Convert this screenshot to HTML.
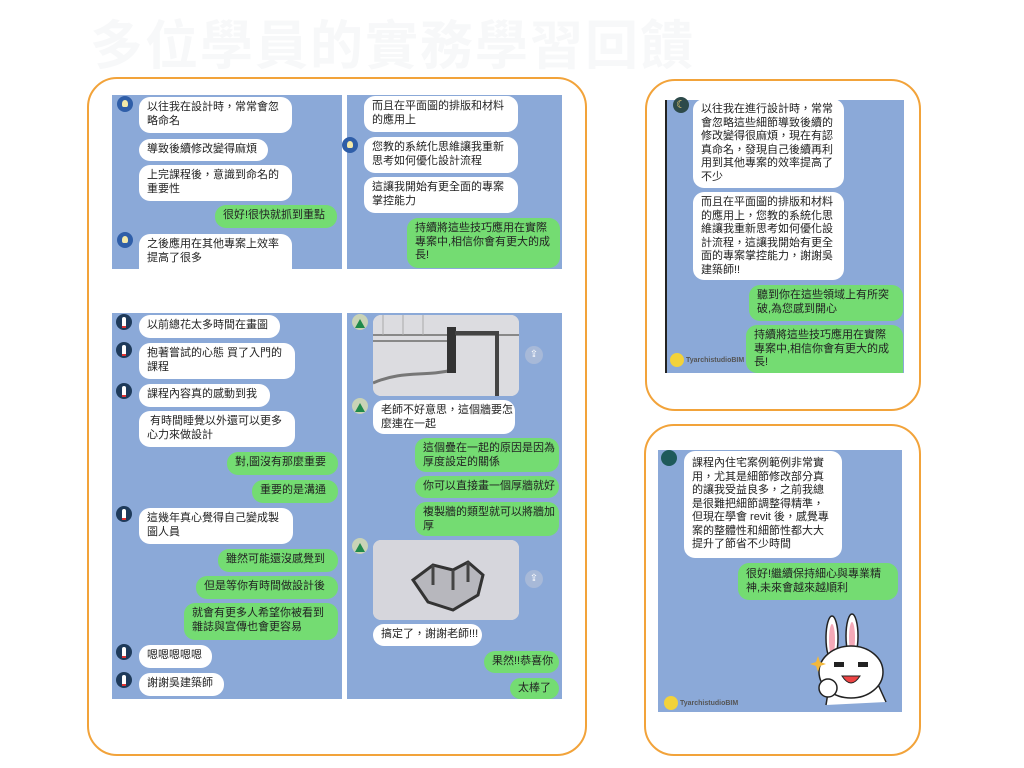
<!DOCTYPE html>
<html><head><meta charset="utf-8">
<style>
*{margin:0;padding:0;box-sizing:border-box}
body{width:1024px;height:768px;background:#fff;position:relative;overflow:hidden;font-family:"Liberation Sans","Noto Sans CJK TC",sans-serif;color:#222}
.t{position:absolute;left:90px;top:4px;font-size:53px;font-weight:bold;color:#f7f8f9;letter-spacing:2px;white-space:nowrap;font-family:"Liberation Sans","Noto Sans CJK TC",sans-serif}
.f{position:absolute;border:2px solid #f2a33a;border-radius:30px}
.p{position:absolute;background:#8ba9d8;overflow:hidden}
.b{position:absolute;background:#fff;border-radius:11px;font-size:11px;line-height:13.5px;padding:4px 8px;white-space:nowrap}
.g{background:#74dc72}
.a{position:absolute;width:16px;height:16px;border-radius:50%}
.ab{background:#2f5ea8}
.ab::after{content:"";position:absolute;left:5px;top:4px;width:6px;height:7px;border-radius:50% 50% 30% 30%;background:#f4e9a8}
.ar{background:#1e3a5a}
.ar::after{content:"";position:absolute;left:6px;top:3px;width:4px;height:9px;border-radius:2px 2px 0 0;background:#fff;border-bottom:2px solid #d33}
.am{background:#c9d3b6}
.am::after{content:"";position:absolute;left:3px;top:5px;border-left:5px solid transparent;border-right:5px solid transparent;border-bottom:9px solid #1f8a4a}
.img{position:absolute;background:#d8d8dc;border-radius:8px;overflow:hidden}
.sh{position:absolute;width:18px;height:18px;border-radius:50%;background:#a7b9d8;color:#fff;font-size:10px;text-align:center;line-height:18px}
.wm{position:absolute;font-size:7px;color:#555;font-weight:bold;white-space:nowrap}
.wm i{display:inline-block;width:14px;height:14px;border-radius:50%;background:#f3d23a;vertical-align:middle;margin-right:2px}
</style></head><body>
<div class="t">多位學員的實務學習回饋</div>

<div class="f" style="left:87px;top:77px;width:500px;height:679px"></div>
<div class="f" style="left:645px;top:79px;width:276px;height:332px"></div>
<div class="f" style="left:644px;top:424px;width:277px;height:332px"></div>

<!-- Panel A -->
<div class="p" style="left:112px;top:95px;width:230px;height:174px"></div>
<div class="a ab" style="left:117px;top:96px"></div>
<div class="b" style="left:139px;top:97px;width:153px;height:36px">以往我在設計時，常常會忽<br>略命名</div>
<div class="b" style="left:139px;top:139px;width:129px;height:22px">導致後續修改變得麻煩</div>
<div class="b" style="left:139px;top:165px;width:153px;height:36px">上完課程後，意識到命名的<br>重要性</div>
<div class="b g" style="left:215px;top:205px;width:122px;height:23px">很好!很快就抓到重點</div>
<div class="a ab" style="left:117px;top:232px"></div>
<div class="b" style="left:139px;top:234px;width:153px;height:35px;border-radius:11px 11px 0 0">之後應用在其他專案上效率<br>提高了很多</div>

<!-- Panel B -->
<div class="p" style="left:347px;top:95px;width:215px;height:174px"></div>
<div class="b" style="left:364px;top:96px;width:154px;height:36px">而且在平面圖的排版和材料<br>的應用上</div>
<div class="a ab" style="left:342px;top:137px"></div>
<div class="b" style="left:364px;top:137px;width:154px;height:36px">您教的系統化思維讓我重新<br>思考如何優化設計流程</div>
<div class="b" style="left:364px;top:177px;width:154px;height:36px">這讓我開始有更全面的專案<br>掌控能力</div>
<div class="b g" style="left:407px;top:218px;width:153px;height:50px">持續將這些技巧應用在實際<br>專案中,相信你會有更大的成<br>長!</div>

<!-- Panel C -->
<div class="p" style="left:112px;top:313px;width:230px;height:386px"></div>
<div class="a ar" style="left:116px;top:314px"></div>
<div class="b" style="left:139px;top:315px;width:141px;height:23px">以前總花太多時間在畫圖</div>
<div class="a ar" style="left:116px;top:342px"></div>
<div class="b" style="left:139px;top:343px;width:156px;height:36px">抱著嘗試的心態 買了入門的<br>課程</div>
<div class="a ar" style="left:116px;top:383px"></div>
<div class="b" style="left:139px;top:384px;width:131px;height:23px">課程內容真的感動到我</div>
<div class="b" style="left:139px;top:411px;width:156px;height:36px">&nbsp;有時間睡覺以外還可以更多<br>心力來做設計</div>
<div class="b g" style="left:227px;top:452px;width:111px;height:23px">對,圖沒有那麼重要</div>
<div class="b g" style="left:252px;top:480px;width:86px;height:23px">重要的是溝通</div>
<div class="a ar" style="left:116px;top:506px"></div>
<div class="b" style="left:139px;top:508px;width:154px;height:36px">這幾年真心覺得自己變成製<br>圖人員</div>
<div class="b g" style="left:218px;top:549px;width:120px;height:23px">雖然可能還沒感覺到</div>
<div class="b g" style="left:196px;top:576px;width:142px;height:23px">但是等你有時間做設計後</div>
<div class="b g" style="left:184px;top:603px;width:154px;height:37px">就會有更多人希望你被看到<br>雜誌與宣傳也會更容易</div>
<div class="a ar" style="left:116px;top:644px"></div>
<div class="b" style="left:139px;top:645px;width:73px;height:23px">嗯嗯嗯嗯嗯</div>
<div class="a ar" style="left:116px;top:672px"></div>
<div class="b" style="left:139px;top:673px;width:85px;height:23px">謝謝吳建築師</div>

<!-- Panel D -->
<div class="p" style="left:347px;top:313px;width:215px;height:386px"></div>
<div class="a am" style="left:352px;top:314px"></div>
<div class="img" style="left:373px;top:315px;width:146px;height:81px">
<svg width="146" height="81"><rect width="146" height="81" fill="#dcdce0"/><path d="M0 20 H146 M0 26 H75" stroke="#888" stroke-width="2"/><path d="M0 68 C30 55 50 62 80 55" stroke="#777" fill="none" stroke-width="3"/><rect x="74" y="12" width="9" height="46" fill="#333"/><path d="M82 18 H124 V81" stroke="#444" stroke-width="4" fill="none"/><path d="M10 0 V20 M30 0 V20 M50 0 V20" stroke="#aaa"/></svg></div>
<div class="sh" style="left:525px;top:346px">⇪</div>
<div class="a am" style="left:352px;top:398px"></div>
<div class="b" style="left:373px;top:400px;width:142px;height:34px">老師不好意思，這個牆要怎<br>麼連在一起</div>
<div class="b g" style="left:415px;top:438px;width:144px;height:34px">這個疊在一起的原因是因為<br>厚度設定的關係</div>
<div class="b g" style="left:415px;top:476px;width:144px;height:22px">你可以直接畫一個厚牆就好</div>
<div class="b g" style="left:415px;top:502px;width:144px;height:34px">複製牆的類型就可以將牆加<br>厚</div>
<div class="a am" style="left:352px;top:538px"></div>
<div class="img" style="left:373px;top:540px;width:146px;height:80px">
<svg width="146" height="80"><rect width="146" height="80" fill="#d6d6dc"/><path d="M40 40 L60 25 L80 30 L95 22 L110 35 L105 55 L80 70 L55 62 Z" fill="#b7b7bd" stroke="#333" stroke-width="3"/><path d="M60 25 V45 M80 30 V50 M95 22 V42" stroke="#444" stroke-width="3"/></svg></div>
<div class="sh" style="left:525px;top:570px">⇪</div>
<div class="b" style="left:373px;top:624px;width:109px;height:22px">搞定了，謝謝老師!!!</div>
<div class="b g" style="left:484px;top:651px;width:75px;height:22px">果然!!恭喜你</div>
<div class="b g" style="left:510px;top:678px;width:49px;height:21px">太棒了</div>

<!-- Right top -->
<div class="p" style="left:665px;top:100px;width:239px;height:273px;border-left:2px solid #222"></div>
<div class="a" style="left:673px;top:97px;background:#2d4a4a;color:#f3d27a;font-size:11px;text-align:center;line-height:16px">☾</div>
<div class="b" style="left:693px;top:99px;width:151px;height:89px">以往我在進行設計時，常常<br>會忽略這些細節導致後續的<br>修改變得很麻煩，現在有認<br>真命名，發現自己後續再利<br>用到其他專案的效率提高了<br>不少</div>
<div class="b" style="left:693px;top:192px;width:151px;height:88px">而且在平面圖的排版和材料<br>的應用上，您教的系統化思<br>維讓我重新思考如何優化設<br>計流程，這讓我開始有更全<br>面的專案掌控能力，謝謝吳<br>建築師!!</div>
<div class="b g" style="left:749px;top:285px;width:154px;height:36px">聽到你在這些領域上有所突<br>破,為您感到開心</div>
<div class="b g" style="left:746px;top:325px;width:157px;height:48px;border-radius:11px 11px 0 11px">持續將這些技巧應用在實際<br>專案中,相信你會有更大的成<br>長!</div>
<div class="wm" style="left:670px;top:353px"><i></i>TyarchistudioBIM</div>

<!-- Right bottom -->
<div class="p" style="left:658px;top:450px;width:244px;height:262px"></div>
<div class="a" style="left:661px;top:450px;background:#1e5a5a"></div>
<div class="b" style="left:684px;top:451px;width:158px;height:107px;padding-top:6px">課程內住宅案例範例非常實<br>用，尤其是細節修改部分真<br>的讓我受益良多，之前我總<br>是很難把細節調整得精準，<br>但現在學會 revit 後，感覺專<br>案的整體性和細節性都大大<br>提升了節省不少時間</div>
<div class="b g" style="left:738px;top:563px;width:160px;height:37px;padding-top:5px">很好!繼續保持細心與專業精<br>神,未來會越來越順利</div>
<svg style="position:absolute;left:806px;top:610px" width="90" height="100">
<ellipse cx="26" cy="28" rx="6" ry="22" fill="#fff" stroke="#222" stroke-width="1.5"/>
<ellipse cx="26" cy="30" rx="3" ry="16" fill="#f4a9b8"/>
<ellipse cx="46" cy="26" rx="6" ry="22" fill="#fff" stroke="#222" stroke-width="1.5"/>
<ellipse cx="46" cy="28" rx="3" ry="16" fill="#f4a9b8"/>
<path d="M20 95 L24 70 L70 70 L80 92" fill="#fff" stroke="#222" stroke-width="1.5"/>
<ellipse cx="45" cy="62" rx="32" ry="26" fill="#fff" stroke="#222" stroke-width="1.5"/>
<rect x="28" y="52" width="10" height="5" fill="#222"/><rect x="52" y="52" width="10" height="5" fill="#222"/>
<path d="M36 66 Q45 80 54 66 Z" fill="#e44" stroke="#222"/>
<circle cx="22" cy="78" r="9" fill="#fff" stroke="#222" stroke-width="1.5"/>
<path d="M10 52 L12 46 L14 52 L20 54 L14 56 L12 62 L10 56 L4 54 Z" fill="#f3b83a"/>
</svg>
<div class="wm" style="left:664px;top:696px"><i></i>TyarchistudioBIM</div>
</body></html>
